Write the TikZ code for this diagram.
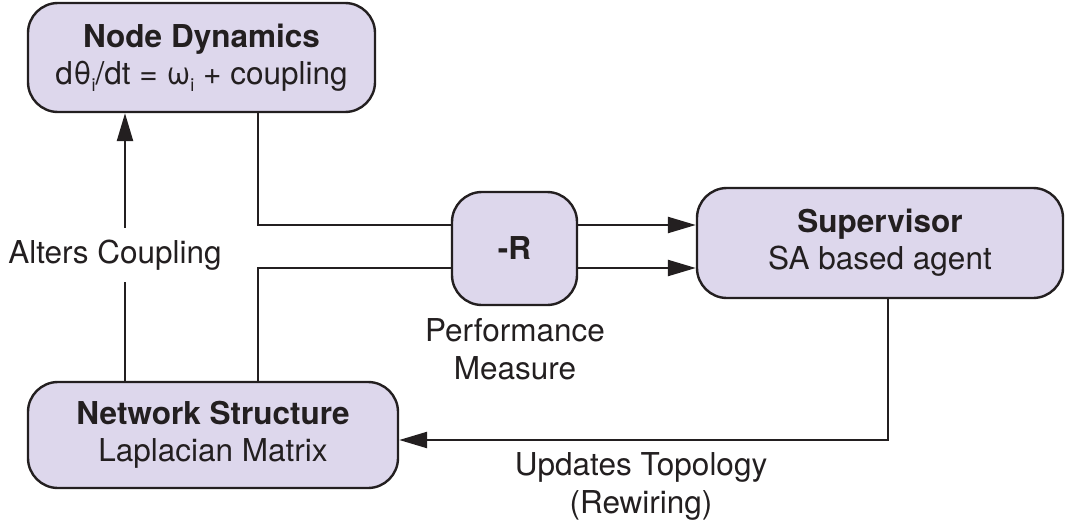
\documentclass[tikz,border=0pt]{standalone}
\usepackage{fontspec}
\setmainfont{TeX Gyre Heros}
\usetikzlibrary{arrows.meta,calc}
\definecolor{boxfill}{RGB}{221,215,236}
\definecolor{ink}{RGB}{35,31,32}
\newcommand{\subi}{\raisebox{-7pt}{\fontsize{18}{18}\selectfont i}}
\begin{document}
\begin{tikzpicture}[x=1pt,y=-1pt,
  box/.style={draw=ink,line width=2.4pt,fill=boxfill,rounded corners=30pt,
    align=center,inner sep=0pt,text=ink,font=\fontsize{31.5}{37}\selectfont},
  lbl/.style={text=ink,align=center,inner sep=2pt,font=\fontsize{31.5}{38}\selectfont},
  conn/.style={draw=ink,line width=2.4pt},
  arr/.style={conn,-{Triangle[length=28pt,width=16pt]}}]
\useasboundingbox (0,0) rectangle (1073,527);
\node[box,minimum width=347pt,minimum height=109pt] (ND) at (201.5,57.5)
  {\textbf{Node Dynamics}\\d\kern0.5pt θ\subi/dt = ω\subi\ + coupling};
\node[box,minimum width=366pt,minimum height=110pt] (SUP) at (880,243)
  {\textbf{Supervisor}\\SA based agent};
\node[box,minimum width=370pt,minimum height=106pt] (NS) at (213,435)
  {\textbf{Network Structure}\\Laplacian Matrix};
\node[box,minimum width=125pt,minimum height=113pt] (R) at (514.5,248.5)
  {\textbf{-R}};
\coordinate (c1) at (258,225);
\coordinate (c2) at (258,268);
\coordinate (c3) at (125,0);
\coordinate (c4) at (888,440);
\draw[conn] (ND.south -| c1) |- (R.west |- c1);
\draw[conn] (NS.north -| c2) |- (R.west |- c2);
\draw[arr] (R.east |- c1) -- (SUP.west |- c1);
\draw[arr] (R.east |- c2) -- (SUP.west |- c2);
\draw[arr] (NS.north -| c3) -- (ND.south -| c3)
  node[lbl,pos=0.47,fill=white,inner ysep=12pt,xshift=-10pt] (AC) {Alters Coupling};
\draw[arr] (SUP.south -| c4) |- (NS.east |- c4);
\node[lbl] (PM) at (515,349) {Performance\\Measure};
\node[lbl] (UT) at (641,486) {Updates Topology\\(Rewiring)};
\end{tikzpicture}
\end{document}
